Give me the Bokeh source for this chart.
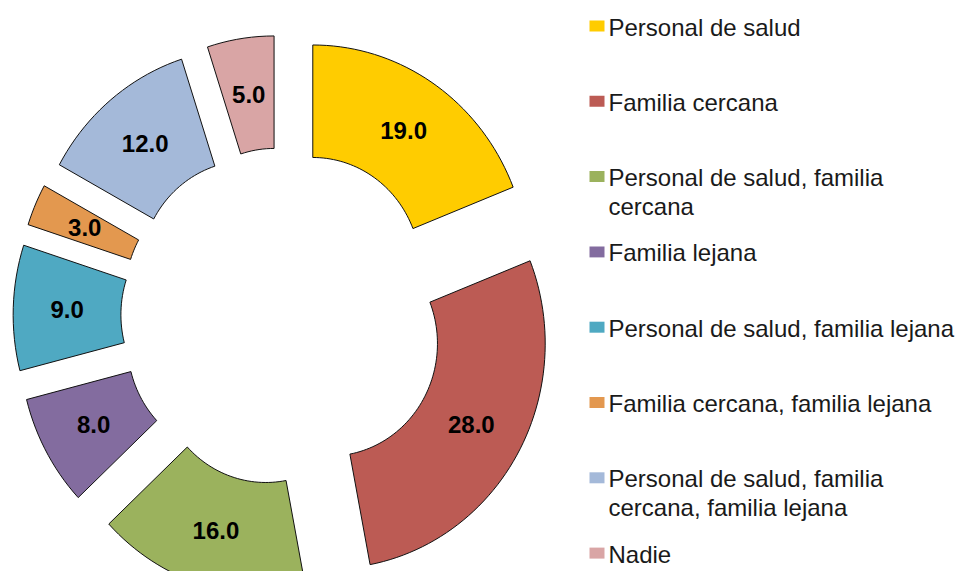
import numpy as np
from bokeh.plotting import figure
from bokeh.models import Range1d
from bokeh.core.properties import value
from bokeh.embed import file_html
from bokeh.resources import INLINE

# ---- data ----
categories = [
    "Personal de salud",
    "Familia cercana",
    "Personal de salud, familia\ncercana",
    "Familia lejana",
    "Personal de salud, familia lejana",
    "Familia cercana, familia lejana",
    "Personal de salud, familia\ncercana, familia lejana",
    "Nadie",
]
values = [19.0, 28.0, 16.0, 8.0, 9.0, 3.0, 12.0, 5.0]
colors = ["#FFCC00", "#BC5B54", "#9BB25D", "#836C9F",
          "#4FA9C2", "#E3984F", "#A4B9D9", "#D9A5A5"]

# ---- layout constants (pixels inside the figure) ----
W, H = 956, 571
CX, CY = 282.0, 316.0      # donut centre
SX, SY = 215.5, 225.0      # outer radius in px (x / y)
HOLE = 0.5                 # inner radius fraction
EXPLODE = 0.25             # explosion distance fraction
LEG_BOX_X = 596.5
LEG_TEXT_X = 608.0
LEG_Y0 = 25.5
LEG_DY = 75.3
LINE_H = 28.5


def px_to_x(fx):
    return (fx - CX) / SX


def px_to_y(fy):
    return (CY - fy) / SY


p = figure(width=W, height=H, output_backend="svg", toolbar_location=None,
           x_range=Range1d(px_to_x(0), px_to_x(W)),
           y_range=Range1d(px_to_y(H), px_to_y(0)),
           min_border=0, outline_line_color=None,
           background_fill_color="white", border_fill_color="white")
p.axis.visible = False
p.grid.visible = False

vals = np.array(values, dtype=float)
total = vals.sum()
cum = np.concatenate([[0.0], np.cumsum(vals)])
starts = 2 * np.pi * cum[:-1] / total
ends = 2 * np.pi * cum[1:] / total
mids = (starts + ends) / 2

xs, ys, lx, ly, labels = [], [], [], [], []
for s, e, m, v in zip(starts, ends, mids, vals):
    ox, oy = EXPLODE * np.sin(m), EXPLODE * np.cos(m)
    n = max(8, int(200 * (e - s) / (2 * np.pi)))
    t = np.linspace(s, e, n)
    px = np.concatenate([ox + np.sin(t), ox + HOLE * np.sin(t[::-1])])
    py = np.concatenate([oy + np.cos(t), oy + HOLE * np.cos(t[::-1])])
    xs.append(px)
    ys.append(py)
    rm = (1 + HOLE) / 2
    lx.append(ox + rm * np.sin(m))
    ly.append(oy + rm * np.cos(m))
    labels.append(f"{v:.1f}")

p.patches(xs=xs, ys=ys, fill_color=colors, line_color="#111111", line_width=1)

p.text(x=lx, y=ly, text=labels, text_font=value("Liberation Sans"),
       text_font_style="bold", text_font_size="24px", text_color="black",
       text_align="center", text_baseline="middle")

# ---- legend ----
bx, by, tx, ty, tt = [], [], [], [], []
for i, cat in enumerate(categories):
    fy = LEG_Y0 + LEG_DY * i
    bx.append(px_to_x(LEG_BOX_X))
    by.append(px_to_y(fy))
    for j, line in enumerate(cat.split("\n")):
        tx.append(px_to_x(LEG_TEXT_X))
        ty.append(px_to_y(fy + 1 + LINE_H * j))
        tt.append(line)

p.rect(x=bx, y=by, width=15, height=11, width_units="screen",
       height_units="screen", fill_color=colors, line_color=None)
p.text(x=tx, y=ty, text=tt, text_font=value("Liberation Sans"),
       text_font_size="24px", text_color="#1a1a1a",
       text_align="left", text_baseline="middle")

open("out.html", "w").write(file_html(p, INLINE))
